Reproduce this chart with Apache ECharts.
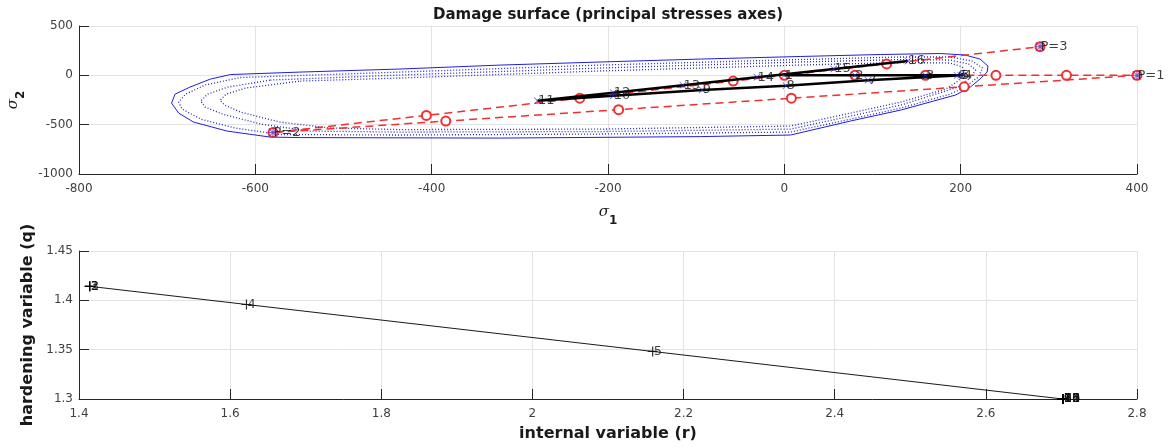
<!DOCTYPE html>
<html><head><meta charset="utf-8">
<script src="https://cdn.jsdelivr.net/npm/echarts@6/dist/echarts.min.js"></script>
<style>html,body{margin:0;padding:0;background:#fff}#c{width:1172px;height:448px}</style>
</head><body><div id="c"></div>
<script>
// ---------- Top plot: damage surfaces (sigma1, sigma2) ----------
const surfaceOuter = [[-628,8],[-549,33],[-436,64],[-322,104],[-209,135],[-95,165],[18,191],[109,211],[177,221],[205,206],[222,165],[231,94],[230,33],[222,-37],[211,-119],[194,-200],[132,-352],[75,-463],[7,-605],[-95,-621],[-322,-636],[-549,-631],[-583,-626],[-632,-565],[-670,-474],[-687,-383],[-695,-281],[-691,-190],[-674,-119],[-651,-38],[-628,8]];
const surfaceA = [[-617,-22],[-436,33],[-209,104],[18,160],[132,186],[188,186],[213,145],[225,74],[220,-17],[205,-119],[188,-190],[132,-332],[75,-444],[7,-575],[-209,-595],[-436,-605],[-572,-600],[-623,-534],[-662,-443],[-683,-342],[-687,-271],[-679,-190],[-657,-98],[-617,-22]];
const surfaceB = [[-583,-48],[-436,3],[-209,74],[18,135],[132,160],[188,155],[209,115],[217,54],[211,-27],[197,-119],[132,-302],[75,-413],[7,-545],[-209,-570],[-436,-575],[-538,-565],[-594,-494],[-637,-393],[-657,-322],[-662,-261],[-654,-190],[-631,-119],[-583,-48]];
const surfaceC = [[-549,-58],[-436,-27],[-209,44],[18,104],[132,130],[188,125],[202,84],[205,23],[197,-58],[183,-139],[132,-271],[75,-383],[7,-514],[-209,-545],[-436,-550],[-515,-534],[-572,-474],[-617,-372],[-635,-301],[-640,-251],[-633,-190],[-611,-129],[-549,-58]];

// effective (applied) stress path, steps 1..16
const loadS1 = [0,80,160,240,320,400,204,8,-188,-384,-580,-406,-232,-58,116,290];
const loadS2 = [0,0,0,0,0,0,-116,-232,-348,-464,-580,-406,-232,-58,116,290];
// load vertices
const vertS1 = [400,-580,290];
const vertS2 = [0,-580,290];
const vertLabels = ['P=1','P=2','P=3'];
// actual stress path, steps 1..16
const stressS1 = [0,80,160,203,200,196,95,2,-93,-194,-280,-194,-115,-31,56,140];
const stressS2 = [0,0,0,0,0,-2,-50,-105,-149,-206,-257,-177,-100,-19,64,145];
const stepLabels = ['1','2','3','4','5','6','7','8','9','10','11','12','13','14','15','16'];

// ---------- Bottom plot: hardening ----------
const rVals = [1.4142,1.4142,1.4142,1.6216,2.1591,2.7018,2.7018,2.7018,2.7018,2.7018,2.7018,2.7018,2.7018,2.7018,2.7018,2.7018];
const qVals = [1.4142,1.4142,1.4142,1.3958,1.3482,1.3,1.3,1.3,1.3,1.3,1.3,1.3,1.3,1.3,1.3,1.3];

const FONT = 'DejaVu Sans';
const xSym = 'path://M0.7,0L5,4.3L9.3,0L10,0.7L5.7,5L10,9.3L9.3,10L5,5.7L0.7,10L0,9.3L4.3,5L0,0.7Z';
const plusSym = 'path://M4.4,0H5.6V4.4H10V5.6H5.6V10H4.4V5.6H0V4.4H4.4Z';
const starSym = 'path://M4.4,0H5.6V4.4H10V5.6H5.6V10H4.4V5.6H0V4.4H4.4Z M0.7,0L5,4.3L9.3,0L10,0.7L5.7,5L10,9.3L9.3,10L5,5.7L0.7,10L0,9.3L4.3,5L0,0.7Z';

const fmt = v => String(+(+v).toFixed(2));
function axisBase(extra, labelMargin){
  return Object.assign({
    axisLine:{show:true,onZero:false,lineStyle:{color:'#262626',width:1}},
    axisTick:{show:true,inside:true,length:10,lineStyle:{color:'#262626'}},
    splitLine:{show:true,lineStyle:{color:'#e3e3e3',width:1}},
    axisLabel:{color:'#404040',fontSize:12,fontFamily:FONT,margin:labelMargin,formatter:fmt},
    nameTextStyle:{color:'#1a1a1a',fontFamily:FONT,fontSize:16,fontWeight:'bold'}
  }, extra);
}
const sigmaRich = {
  s:{fontFamily:'DejaVu Serif',fontStyle:'italic',fontSize:15,color:'#1a1a1a',lineHeight:22,verticalAlign:'top'},
  b:{fontFamily:FONT,fontWeight:'bold',fontSize:12,color:'#1a1a1a',lineHeight:22,verticalAlign:'bottom'}
};

const zip = (a,b) => a.map((v,i)=>[v,b[i]]);
const zip3 = (a,b,c) => a.map((v,i)=>[v,b[i],c[i]]);

function surf(data, dotted){
  return {type:'line',xAxisIndex:0,yAxisIndex:0,data:data,showSymbol:false,symbol:'none',silent:true,
    lineStyle:{color:dotted?'#2424c8':'#1f1fe0',width:dotted?1.3:1,type:dotted?[1,2]:'solid'},z:2};
}
const labelStyle = {show:true,position:'right',distance:-3,color:'#111',fontSize:13,fontFamily:FONT,
  formatter:p=>p.value[2]};

const option = {
  animation:false,
  backgroundColor:'#fff',
  graphic:[{type:'text',x:608,y:8,style:{text:'Damage surface (principal stresses axes)',
    fill:'#1a1a1a',font:'bold 15px "DejaVu Sans"',align:'center',verticalAlign:'top'}}],
  grid:[
    {left:79,top:26,width:1058,height:148,containLabel:false,outerBoundsMode:'none'},
    {left:79,top:251,width:1058,height:148,containLabel:false,outerBoundsMode:'none'}
  ],
  xAxis:[
    axisBase({gridIndex:0,type:'value',min:-800,max:400,interval:200,
      name:'{s|σ}{b|1}',nameLocation:'middle',nameGap:31,nameTextStyle:{rich:sigmaRich}},9),
    axisBase({gridIndex:1,type:'value',min:1.4,max:2.8,interval:0.2,
      name:'internal variable (r)',nameLocation:'middle',nameGap:27},9)
  ],
  yAxis:[
    axisBase({gridIndex:0,type:'value',min:-1000,max:500,interval:500,
      name:'{s|σ}{b|2}',nameLocation:'middle',nameGap:40,nameRotate:90,nameTextStyle:{rich:sigmaRich}},6),
    axisBase({gridIndex:1,type:'value',min:1.3,max:1.45,interval:0.05,
      name:'hardening variable (q)',nameLocation:'middle',nameGap:29,nameRotate:90},6)
  ],
  series:[
    surf(surfaceOuter,false),
    surf(surfaceA,true),
    surf(surfaceB,true),
    surf(surfaceC,true),
    {type:'line',xAxisIndex:0,yAxisIndex:0,data:zip(loadS1,loadS2),symbol:'emptyCircle',symbolSize:9,
      itemStyle:{color:'#f03030',borderWidth:1},lineStyle:{color:'#f03030',width:1.5,type:[8,5]},z:3},
    {type:'line',xAxisIndex:0,yAxisIndex:0,data:zip(stressS1,stressS2),symbol:'none',
      lineStyle:{color:'#000',width:2.5},z:4},
    {type:'scatter',xAxisIndex:0,yAxisIndex:0,data:zip3(stressS1,stressS2,stepLabels),symbol:xSym,symbolSize:7,
      itemStyle:{color:'#2a2ad0'},label:labelStyle,clip:false,z:5},
    {type:'scatter',xAxisIndex:0,yAxisIndex:0,data:zip3(vertS1,vertS2,vertLabels),symbol:starSym,symbolSize:9,
      itemStyle:{color:'#5a2ab8'},label:Object.assign({},labelStyle,{distance:-4}),clip:false,z:6},
    {type:'line',xAxisIndex:1,yAxisIndex:1,data:zip(rVals,qVals),symbol:'none',
      lineStyle:{color:'#1a1a1a',width:1},z:3},
    {type:'scatter',xAxisIndex:1,yAxisIndex:1,data:zip3(rVals,qVals,stepLabels),symbol:plusSym,symbolSize:10,
      itemStyle:{color:'#000'},label:Object.assign({},labelStyle,{distance:-4}),clip:false,z:5}
  ]
};
const chart = echarts.init(document.getElementById('c'),null,{renderer:'canvas'});
chart.setOption(option);
</script>
</body></html>
